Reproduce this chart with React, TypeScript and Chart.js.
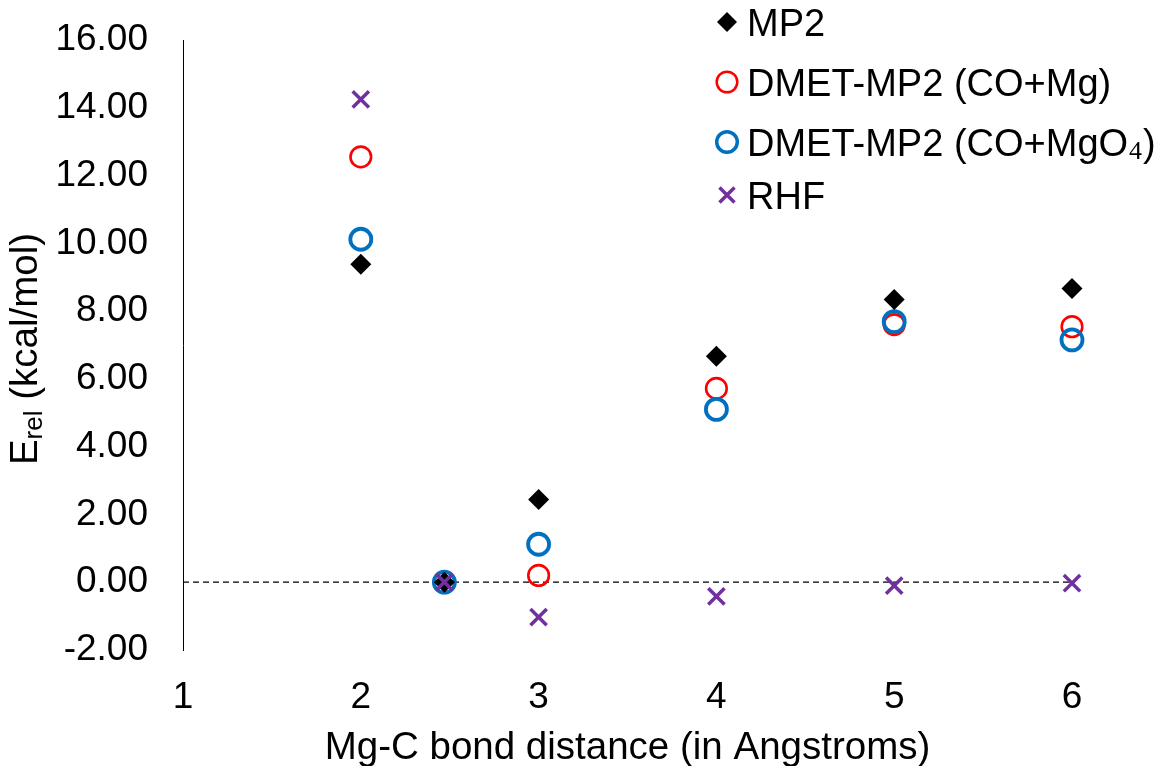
import React, { useEffect, useRef } from 'react';
import { Chart, registerables } from 'chart.js';

Chart.register(...registerables);

// ---- data ----
const bondDistance = [2, 2.47, 3, 4, 5, 6];
const mp2 = [9.38, 0, 2.44, 6.67, 8.34, 8.67];
const dmetCoMg = [12.55, 0, 0.2, 5.72, 7.6, 7.54];
const dmetCoMgO4 = [10.12, 0, 1.12, 5.1, 7.69, 7.15];
const rhf = [14.25, 0, -1.03, -0.42, -0.1, -0.03];
const yTickValues = [-2, 0, 2, 4, 6, 8, 10, 12, 14, 16];
const xTickValues = [1, 2, 3, 4, 5, 6];
const zeroLineX = [1, 6];
const seriesNames = ['MP2', 'DMET-MP2 (CO+Mg)', 'DMET-MP2 (CO+MgO4)', 'RHF'];

const FONT = "'Liberation Sans', Arial, 'DejaVu Sans', sans-serif";
const BLACK = '#000000';
const RED = '#FF0000';
const BLUE = '#0070C0';
const PURPLE = '#7030A0';

const toPoints = (ys: number[]) => bondDistance.map((x, i) => ({ x, y: ys[i] }));

function drawMarker(ctx: CanvasRenderingContext2D, kind: string, cx: number, cy: number) {
  ctx.save();
  if (kind === 'diamond') {
    ctx.fillStyle = BLACK;
    ctx.beginPath();
    ctx.moveTo(cx - 10, cy);
    ctx.lineTo(cx, cy - 10);
    ctx.lineTo(cx + 10, cy);
    ctx.lineTo(cx, cy + 10);
    ctx.closePath();
    ctx.fill();
  } else if (kind === 'red') {
    ctx.strokeStyle = RED;
    ctx.lineWidth = 2.5;
    ctx.beginPath();
    ctx.arc(cx, cy, 10.3, 0, Math.PI * 2);
    ctx.stroke();
  } else if (kind === 'blue') {
    ctx.strokeStyle = BLUE;
    ctx.lineWidth = 3.5;
    ctx.beginPath();
    ctx.arc(cx, cy, 10.3, 0, Math.PI * 2);
    ctx.stroke();
  } else {
    ctx.strokeStyle = PURPLE;
    ctx.lineWidth = 3.5;
    const d = 7.5;
    ctx.beginPath();
    ctx.moveTo(cx - d, cy - d);
    ctx.lineTo(cx + d, cy + d);
    ctx.moveTo(cx + d, cy - d);
    ctx.lineTo(cx - d, cy + d);
    ctx.stroke();
  }
  ctx.restore();
}

const overlayPlugin = {
  id: 'overlay',
  afterDraw(chart: any) {
    const ctx: CanvasRenderingContext2D = chart.ctx;
    const area = chart.chartArea;
    // ---- y axis title with subscript ----
    ctx.save();
    const big = `38.5px ${FONT}`;
    const sub = `26px ${FONT}`;
    ctx.fillStyle = BLACK;
    ctx.textAlign = 'left';
    ctx.textBaseline = 'alphabetic';
    ctx.font = big;
    const wE = ctx.measureText('E').width;
    const wRest = ctx.measureText(' (kcal/mol)').width;
    ctx.font = sub;
    const wSub = ctx.measureText('rel').width;
    const total = wE + wSub + wRest;
    const cy = (area.top + area.bottom) / 2 + 4;
    ctx.translate(37, cy + total / 2);
    ctx.rotate(-Math.PI / 2);
    ctx.font = big;
    ctx.fillText('E', 0, 0);
    ctx.font = sub;
    ctx.fillText('rel', wE, 5);
    ctx.font = big;
    ctx.fillText(' (kcal/mol)', wE + wSub, 0);
    ctx.restore();

    // ---- legend ----
    const rows = [
      { kind: 'diamond', y: 22 },
      { kind: 'red', y: 82 },
      { kind: 'blue', y: 142 },
      { kind: 'cross', y: 195 },
    ];
    const markerX = 727;
    const textX = 747;
    ctx.save();
    ctx.fillStyle = BLACK;
    ctx.textAlign = 'left';
    ctx.textBaseline = 'alphabetic';
    rows.forEach((r, i) => {
      drawMarker(ctx, r.kind, markerX, r.y);
      const base = r.y + 13.5;
      const name = seriesNames[i];
      ctx.font = `38px ${FONT}`;
      if (name.endsWith('O4)')) {
        const head = name.slice(0, -2);
        ctx.fillText(head, textX, base);
        let x = textX + ctx.measureText(head).width;
        ctx.font = `26px 'Liberation Serif', 'DejaVu Serif', serif`;
        ctx.fillText('4', x + 1, base + 3);
        x += ctx.measureText('4').width + 2;
        ctx.font = `38px ${FONT}`;
        ctx.fillText(')', x, base);
      } else {
        ctx.fillText(name, textX, base);
      }
    });
    ctx.restore();
  },
};

export default function App() {
  const ref = useRef<HTMLCanvasElement>(null);

  useEffect(() => {
    document.body.style.margin = '0';
    const canvas = ref.current;
    if (!canvas) return;
    const chart = new Chart(canvas, {
      type: 'scatter',
      data: {
        datasets: [
          {
            label: seriesNames[3],
            data: toPoints(rhf),
            pointStyle: 'crossRot',
            pointRadius: 11.5,
            pointBorderWidth: 3.5,
            borderColor: PURPLE,
            backgroundColor: PURPLE,
            clip: false,
            order: 0,
          } as any,
          {
            label: seriesNames[0],
            data: toPoints(mp2),
            pointStyle: 'rectRot',
            pointRadius: 10.5,
            pointBorderWidth: 0,
            borderColor: BLACK,
            backgroundColor: BLACK,
            clip: false,
            order: 1,
          },
          {
            label: seriesNames[2],
            data: toPoints(dmetCoMgO4),
            pointStyle: 'circle',
            pointRadius: 10.5,
            pointBorderWidth: 3.8,
            borderColor: BLUE,
            backgroundColor: 'rgba(0,0,0,0)',
            clip: false,
            order: 2,
          },
          {
            label: seriesNames[1],
            data: toPoints(dmetCoMg),
            pointStyle: 'circle',
            pointRadius: 10.3,
            pointBorderWidth: 2.6,
            borderColor: RED,
            backgroundColor: 'rgba(0,0,0,0)',
            clip: false,
            order: 3,
          },
          {
            type: 'line',
            label: 'zero',
            data: zeroLineX.map((x) => ({ x, y: 0 })),
            borderColor: BLACK,
            borderWidth: 1.2,
            borderDash: [6, 4],
            pointRadius: 0,
            fill: false,
            order: 4,
          } as any,
        ],
      },
      options: {
        responsive: false,
        animation: false,
        layout: { padding: { top: 40, right: 90, bottom: 0, left: 0 } },
        plugins: {
          legend: { display: false },
          tooltip: { enabled: false },
        },
        scales: {
          x: {
            type: 'linear',
            position: 'bottom',
            min: 1,
            max: 6,
            afterBuildTicks: (scale: any) => {
              scale.ticks = xTickValues.map((v) => ({ value: v }));
            },
            afterFit: (scale: any) => {
              scale.height = 116;
              scale.paddingLeft = 0;
              scale.paddingRight = 0;
            },
            ticks: {
              color: BLACK,
              font: { family: FONT, size: 37 },
              padding: 26,
              maxRotation: 0,
              callback: (v: any) => String(v),
            },
            grid: { display: false, drawTicks: false },
            border: { display: false },
            title: {
              display: true,
              text: 'Mg-C bond distance (in Angstroms)',
              color: BLACK,
              font: { family: FONT, size: 38.5 },
              padding: { top: 0, bottom: -5 },
            },
          },
          y: {
            type: 'linear',
            min: -2,
            max: 16,
            afterBuildTicks: (scale: any) => {
              scale.ticks = yTickValues.map((v) => ({ value: v }));
            },
            afterFit: (scale: any) => {
              scale.width = 183;
              scale.paddingTop = 0;
              scale.paddingBottom = 0;
            },
            ticks: {
              color: BLACK,
              font: { family: FONT, size: 37 },
              padding: 35,
              callback: (v: any) => Number(v).toFixed(2),
            },
            grid: { display: false, drawTicks: false },
            border: { display: true, color: BLACK, width: 1 },
          },
        },
      },
      plugins: [overlayPlugin],
    });
    return () => chart.destroy();
  }, []);

  return (
    <div style={{ width: 1162, height: 766 }}>
      <canvas ref={ref} width={1162} height={766} style={{ display: 'block' }} />
    </div>
  );
}
